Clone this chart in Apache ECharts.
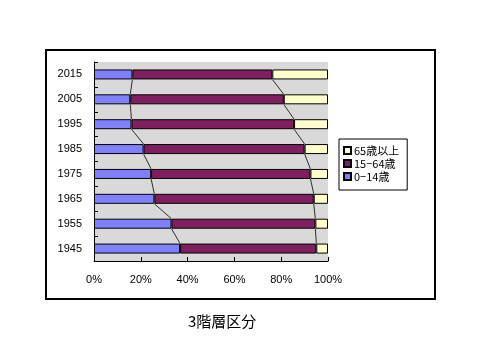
<!DOCTYPE html>
<html><head><meta charset="utf-8">
<script src="https://cdn.jsdelivr.net/npm/echarts@6/dist/echarts.min.js"></script>
<style>html,body{margin:0;padding:0;background:#fff}#c{width:480px;height:360px}</style>
</head><body><div id="c"></div>
<script>
const years = ['1945','1955','1965','1975','1985','1995','2005','2015'];
const age0to14 = [36.8, 33.1, 25.8, 24.4, 21.2, 16.0, 15.5, 16.4];
const age15to64 = [58.2, 61.5, 68.1, 68.1, 68.8, 69.5, 65.6, 59.8];
const age65plus = [5.0, 5.4, 6.1, 7.5, 10.0, 14.5, 18.9, 23.8];
const xTicks = [0, 20, 40, 60, 80, 100];
const names = ['0−14歳', '15−64歳', '65歳以上'];
const titleText = '3階層区分';

const chart = echarts.init(document.getElementById('c'), null, {renderer: 'canvas'});
const BAR = 10;
const font = '"Liberation Sans", Arial, sans-serif';
const cjk = '"Noto Sans CJK JP", "Liberation Sans", sans-serif';

// series-line data: for each adjacent pair, cumulative boundaries
const linkData = [];
for (let i = 0; i < years.length - 1; i++) {
  const c1a = age0to14[i], c1b = age0to14[i + 1];
  const c2a = age0to14[i] + age15to64[i], c2b = age0to14[i + 1] + age15to64[i + 1];
  linkData.push([i, c1a, c1b, c2a, c2b]);
}

chart.setOption({
  animation: false,
  backgroundColor: '#fff',
  grid: {left: 94, right: 152, top: 62, bottom: 99, show: true, backgroundColor: '#d9d9d9', borderWidth: 0},
  xAxis: {
    type: 'value', min: 0, max: 100, interval: 20,
    axisLine: {show: true, lineStyle: {color: '#000', width: 1}},
    axisTick: {show: true, inside: true, length: 4, lineStyle: {color: '#000'}},
    splitLine: {show: false},
    axisLabel: {formatter: v => v + '%', color: '#000', fontSize: 11, fontFamily: font, margin: 13}
  },
  yAxis: {
    type: 'category', data: years,
    axisLine: {show: true, lineStyle: {color: '#000', width: 1}},
    axisTick: {show: true, inside: true, length: 4, lineStyle: {color: '#000'}},
    axisLabel: {color: '#000', fontSize: 11, fontFamily: font, margin: 12}
  },
  legend: {
    orient: 'vertical', left: 339, top: 139,
    data: [names[2], names[1], names[0]],
    itemWidth: 7, itemHeight: 7, itemGap: 2, icon: 'rect',
    padding: [6, 8, 8, 4],
    borderColor: '#000', borderWidth: 1, backgroundColor: '#fff',
    textStyle: {fontSize: 11, fontFamily: cjk, color: '#000', lineHeight: 11, padding: [0, 0, 0, -2]}
  },
  graphic: [
    {type: 'rect', shape: {x: 46, y: 50, width: 389, height: 249}, style: {fill: 'none', stroke: '#000', lineWidth: 2}, z: 100},
    {type: 'text', left: 188, top: 314, style: {text: titleText, font: '15px ' + cjk, fill: '#000'}}
  ],
  series: [
    {name: names[0], type: 'bar', stack: 't', barWidth: BAR, data: age0to14,
     itemStyle: {color: '#8080ff', borderColor: '#000', borderWidth: 1}},
    {name: names[1], type: 'bar', stack: 't', barWidth: BAR, data: age15to64,
     itemStyle: {color: '#7f1f5f', borderColor: '#000', borderWidth: 1}},
    {name: names[2], type: 'bar', stack: 't', barWidth: BAR, data: age65plus,
     itemStyle: {color: '#ffffcc', borderColor: '#000', borderWidth: 1}},
    {type: 'custom', silent: true, z: 5, data: linkData,
     encode: {x: [1, 2, 3, 4], y: 0},
     renderItem: function (params, api) {
       const i = api.value(0);
       const half = BAR / 2;
       const children = [];
       [[1, 2], [3, 4]].forEach(([a, b]) => {
         const p1 = api.coord([api.value(a), i]);
         const p2 = api.coord([api.value(b), i + 1]);
         children.push({type: 'line', shape: {x1: p1[0], y1: p1[1] - half, x2: p2[0], y2: p2[1] + half},
           style: {stroke: '#000', lineWidth: 0.8}});
       });
       return {type: 'group', children};
     }}
  ]
});
</script></body></html>
